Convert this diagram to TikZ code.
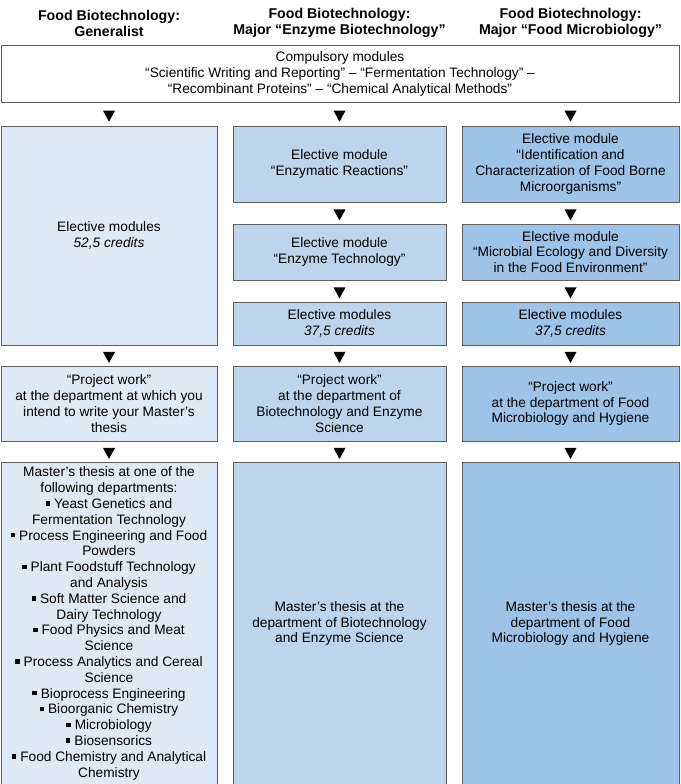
\documentclass[tikz,border=0pt]{standalone}
\usepackage{fontspec}
\setmainfont{Liberation Sans}
\usetikzlibrary{shapes.geometric}

\definecolor{genfill}{HTML}{DDE9F5}
\definecolor{enzfill}{HTML}{BDD5EC}
\definecolor{micfill}{HTML}{9DC3E6}
\definecolor{boxline}{HTML}{5F5F5F}

\newcommand{\bul}{\rule[2.8pt]{4.3pt}{4.3pt}\hspace{0.3em}}

\tikzset{
  head/.style={align=center, font=\fontsize{14.2}{16}\selectfont\bfseries},
  module/.style={draw=boxline, line width=0.8pt, align=center, inner sep=2pt,
    font=\fontsize{13.7}{15.8}\selectfont},
  gen/.style={module, fill=genfill, minimum width=216pt},
  enz/.style={module, fill=enzfill, minimum width=213pt},
  mic/.style={module, fill=micfill, minimum width=217pt},
  tri/.style={isosceles triangle, isosceles triangle apex angle=60,
    isosceles triangle stretches, shape border rotate=270, fill=black,
    inner sep=0pt, minimum width=12pt, minimum height=11pt}
}

\begin{document}
\begin{tikzpicture}[x=1pt, y=-1pt]
  \useasboundingbox (0,0) rectangle (680,784);
  % headings
  \node[head] (h1) at (109,23) {Food Biotechnology:\\Generalist};
  \node[head] (h2) at (339.5,23) {Food Biotechnology:\\Major “Enzyme Biotechnology”};
  \node[head] (h3) at (570.5,23) {Food Biotechnology:\\Major “Food Microbiology”};
  % common part
  \node[module, fill=white, minimum width=678pt, minimum height=57pt] (comp) at (340,74)
    {Compulsory modules\\“Scientific Writing and Reporting” – “Fermentation Technology” –\\“Recombinant Proteins” – “Chemical Analytical Methods”};
  % generalist
  \node[gen, minimum height=219pt] (g1) at (109,235.5) {Elective modules\\\textit{52,5 credits}};
  \node[gen, minimum height=75pt] (g2) at (109,403.5)
    {“Project work”\\at the department at which you\\intend to write your Master’s\\thesis};
  \node[gen, minimum height=323pt] (g3) at (109,623.5)
    {Master’s thesis at one of the\\following departments:\\\bul Yeast Genetics and\\Fermentation Technology\\
     \bul Process Engineering and Food\\Powders\\\bul Plant Foodstuff Technology\\and Analysis\\
     \bul Soft Matter Science and\\Dairy Technology\\\bul Food Physics and Meat\\Science\\
     \bul Process Analytics and Cereal\\Science\\\bul Bioprocess Engineering\\\bul Bioorganic Chemistry\\
     \bul Microbiology\\\bul Biosensorics\\\bul Food Chemistry and Analytical\\Chemistry};
  % enzyme biotechnology
  \node[enz, minimum height=76pt] (e1) at (339.5,164) {Elective module\\“Enzymatic Reactions”};
  \node[enz, minimum height=56pt] (e2) at (339.5,252) {Elective module\\“Enzyme Technology”};
  \node[enz, minimum height=43pt] (e3) at (339.5,323.5) {Elective modules\\\textit{37,5 credits}};
  \node[enz, minimum height=75pt] (e4) at (339.5,403.5)
    {“Project work”\\at the department of\\Biotechnology and Enzyme\\Science};
  \node[enz, minimum height=323pt] (e5) at (339.5,623.5)
    {Master’s thesis at the\\department of Biotechnology\\and Enzyme Science};
  % food microbiology
  \node[mic, minimum height=76pt] (m1) at (570.5,164)
    {Elective module\\“Identification and\\Characterization of Food Borne\\Microorganisms”};
  \node[mic, minimum height=56pt] (m2) at (570.5,252)
    {Elective module\\“Microbial Ecology and Diversity\\in the Food Environment”};
  \node[mic, minimum height=43pt] (m3) at (570.5,323.5) {Elective modules\\\textit{37,5 credits}};
  \node[mic, minimum height=75pt] (m4) at (570.5,403.5)
    {“Project work”\\at the department of Food\\Microbiology and Hygiene};
  \node[mic, minimum height=323pt] (m5) at (570.5,623.5)
    {Master’s thesis at the\\department of Food\\Microbiology and Hygiene};
  % arrows
  \foreach \b in {g1,e1,m1}
    \path (comp.south -| \b) -- (\b.north) node[midway, tri] {};
  \foreach \a/\b in {g1/g2, g2/g3, e1/e2, e2/e3, e3/e4, e4/e5, m1/m2, m2/m3, m3/m4, m4/m5}
    \path (\a.south) -- (\b.north) node[midway, tri] {};
\end{tikzpicture}
\end{document}
